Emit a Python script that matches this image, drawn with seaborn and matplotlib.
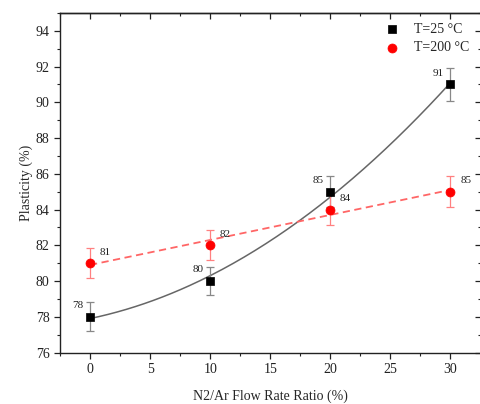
import numpy as np
import pandas as pd
import matplotlib
matplotlib.use("Agg")
import matplotlib.pyplot as plt
from matplotlib.ticker import MultipleLocator
import seaborn as sns

ratio = [0, 10, 20, 30]
plast_25 = [78, 80, 85, 91]
err_25 = [0.8, 0.8, 0.85, 0.9]
plast_200 = [81, 82, 84, 85]
err_200 = [0.85, 0.85, 0.85, 0.85]
labels_25 = ["78", "80", "85", "91"]
labels_200 = ["81", "82", "84", "85"]

sns.set_theme(style="ticks")
plt.rcParams['font.family'] = ['Liberation Serif', 'DejaVu Serif']

fig = plt.figure(figsize=(4.8, 4.04), dpi=100)
ax = fig.add_axes([60/480, 51.5/404, 420.5/480, 339.5/404])

df25 = pd.DataFrame({"x": ratio, "y": plast_25})
df200 = pd.DataFrame({"x": ratio, "y": plast_200})

xs = np.linspace(0, 30, 200)
c2 = np.polyfit(ratio, plast_25, 2)
c1 = np.polyfit(ratio, plast_200, 1)
fit25 = pd.DataFrame({"x": xs, "y": np.polyval(c2, xs)})
fit200 = pd.DataFrame({"x": xs, "y": np.polyval(c1, xs)})
sns.lineplot(data=fit25, x="x", y="y", ax=ax, color="#666666", lw=1.1, zorder=2)
sns.lineplot(data=fit200, x="x", y="y", ax=ax, color="#ff6666", lw=1.3,
             linestyle=(0, (4, 2.5)), zorder=2)

ax.errorbar(ratio, plast_25, yerr=err_25, fmt="none", ecolor="#888888",
            elinewidth=0.9, capsize=3, capthick=0.9, zorder=3)
ax.errorbar(ratio, plast_200, yerr=err_200, fmt="none", ecolor="#ff8080",
            elinewidth=0.9, capsize=3, capthick=0.9, zorder=3)

sns.scatterplot(data=df25, x="x", y="y", ax=ax, marker="s", s=28, color="black",
                edgecolor="black", linewidth=0.5, label="T=25 °C", zorder=4)
sns.scatterplot(data=df200, x="x", y="y", ax=ax, marker="o", s=42, color="red",
                edgecolor="red", linewidth=0.5, label="T=200 °C", zorder=4)

for x, y, t in zip(ratio, plast_25, labels_25):
    ax.annotate(t, (x, y), xytext=(-9, 8), textcoords="offset points",
                fontsize=8, ha="center", va="center", color="#222222")
for x, y, t in zip(ratio, plast_200, labels_200):
    ax.annotate(t, (x, y), xytext=(11, 8), textcoords="offset points",
                fontsize=8, ha="center", va="center", color="#222222")

ax.set_xlim(-2.5, 32.5)
ax.set_ylim(76, 95)
ax.xaxis.set_major_locator(MultipleLocator(5))
ax.xaxis.set_minor_locator(MultipleLocator(2.5))
ax.yaxis.set_major_locator(MultipleLocator(2))
ax.yaxis.set_minor_locator(MultipleLocator(1))
ax.tick_params(which="both", direction="out", labelsize=10, colors="#222222")
ax.tick_params(which="major", length=4, width=0.9)
ax.tick_params(which="minor", length=2.3, width=0.8)

topx = ax.secondary_xaxis("top")
topx.xaxis.set_major_locator(MultipleLocator(5))
topx.xaxis.set_minor_locator(MultipleLocator(2.5))
topx.tick_params(which="both", direction="in", labeltop=False, colors="#222222")
topx.tick_params(which="major", length=4, width=0.9)
topx.tick_params(which="minor", length=2.3, width=0.8)
rightx = ax.secondary_yaxis("right")
rightx.yaxis.set_major_locator(MultipleLocator(2))
rightx.yaxis.set_minor_locator(MultipleLocator(1))
rightx.tick_params(which="both", direction="in", labelright=False, colors="#222222")
rightx.tick_params(which="major", length=4, width=0.9)
rightx.tick_params(which="minor", length=2.3, width=0.8)
for a in (topx, rightx):
    for s in a.spines.values():
        s.set_linewidth(1.0)
        s.set_color("#222222")

for s in ax.spines.values():
    s.set_linewidth(1.0)
    s.set_color("#222222")
ax.set_xlabel("N2/Ar Flow Rate Ratio (%)", fontsize=10, labelpad=10)
ax.set_ylabel("Plasticity (%)", fontsize=10, labelpad=2)

leg = ax.legend(loc="upper right", frameon=False, fontsize=10, handletextpad=0.6,
                borderaxespad=0.3, labelspacing=0.4, markerscale=1.0,
                bbox_to_anchor=(0.997, 1.0))

fig.savefig("out.png", dpi=100)
